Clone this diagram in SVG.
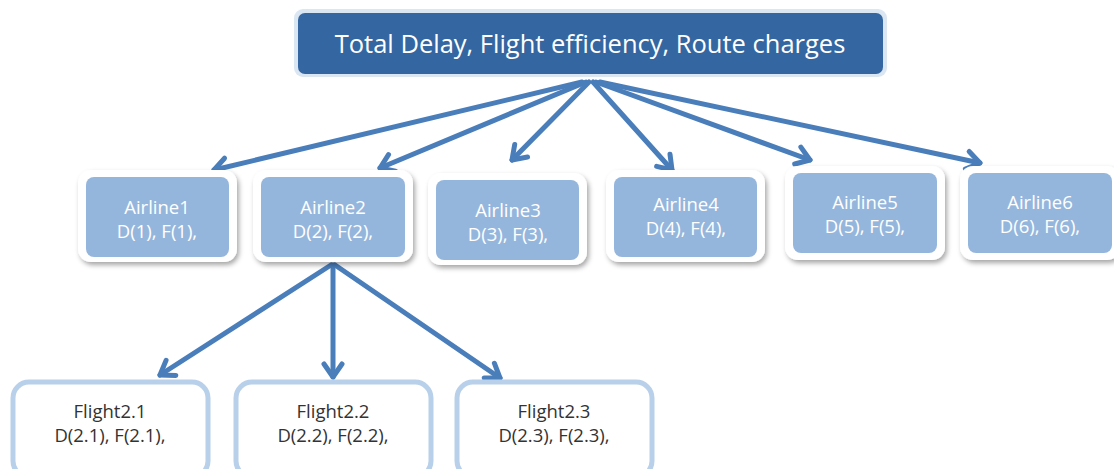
<svg xmlns="http://www.w3.org/2000/svg" width="1114" height="469" viewBox="0 0 1114 469">
<defs>
<style>
.conn{stroke:#4a7ebb;stroke-width:5;fill:none;stroke-linecap:round;marker-end:url(#ah)}
.outer{fill:#ffffff;filter:url(#sh)}
.inner{fill:#95b6dc}
.at{font-family:"Open Sans","Liberation Sans",sans-serif;font-size:18.5px;fill:#ffffff;text-anchor:middle}
.ft{font-family:"Open Sans","Liberation Sans",sans-serif;font-size:18.5px;fill:#333333;text-anchor:middle}
.fb{fill:#ffffff;stroke:#b9d0ea;stroke-width:5}
</style>
<marker id="ah" markerUnits="userSpaceOnUse" markerWidth="30" markerHeight="30" viewBox="-20 -15 30 30" refX="0" refY="0" orient="auto">
<path d="M-13,-9 L0,0 L-13,9" fill="none" stroke="#4a7ebb" stroke-width="5" stroke-linecap="round" stroke-linejoin="round"/>
</marker>
<filter id="sh" x="-10%" y="-10%" width="125%" height="130%">
<feDropShadow dx="2" dy="3" stdDeviation="2.5" flood-color="#000" flood-opacity="0.35"/>
</filter>
</defs>
<g id="connectors">
<line class="conn" x1="582" y1="82" x2="214" y2="170"/>
<line class="conn" x1="586" y1="82" x2="380" y2="168"/>
<line class="conn" x1="589" y1="82" x2="512" y2="160"/>
<line class="conn" x1="593" y1="82" x2="672" y2="170"/>
<line class="conn" x1="596" y1="82" x2="810" y2="160"/>
<line class="conn" x1="600" y1="82" x2="980" y2="163"/>
<line class="conn" x1="331" y1="265" x2="160" y2="375"/>
<line class="conn" x1="333" y1="265" x2="333" y2="377"/>
<line class="conn" x1="335" y1="265" x2="500" y2="378"/>
</g>
<g id="root">
<rect x="294" y="9" width="593" height="68" rx="9" fill="#dbe6f3"/>
<rect x="298" y="13" width="585" height="61" rx="7" fill="#3466a1"/>
<text x="590" y="53" font-family="'Open Sans','Liberation Sans',sans-serif" font-size="25.5" fill="#ffffff" text-anchor="middle">Total Delay, Flight efficiency, Route charges</text>
</g>
<g id="airline1">
<rect class="outer" x="78" y="170" width="159" height="92" rx="13"/>
<rect class="inner" x="86" y="177" width="143" height="80" rx="8"/>
<text class="at" x="157" y="214">Airline1</text>
<text class="at" x="157" y="238">D(1), F(1),</text>
</g>
<g id="airline2">
<rect class="outer" x="253" y="170" width="160" height="92" rx="13"/>
<rect class="inner" x="261" y="177" width="144" height="80" rx="8"/>
<text class="at" x="333" y="214">Airline2</text>
<text class="at" x="333" y="238">D(2), F(2),</text>
</g>
<g id="airline3">
<rect class="outer" x="428" y="173" width="159" height="92" rx="13"/>
<rect class="inner" x="436" y="180" width="143" height="80" rx="8"/>
<text class="at" x="508" y="217">Airline3</text>
<text class="at" x="508" y="241">D(3), F(3),</text>
</g>
<g id="airline4">
<rect class="outer" x="606" y="170" width="159" height="92" rx="13"/>
<rect class="inner" x="614" y="177" width="143" height="80" rx="8"/>
<text class="at" x="686" y="211">Airline4</text>
<text class="at" x="686" y="235">D(4), F(4),</text>
</g>
<g id="airline5">
<rect class="outer" x="785" y="166" width="160" height="94" rx="13"/>
<rect class="inner" x="793" y="173" width="144" height="80" rx="8"/>
<text class="at" x="865" y="209">Airline5</text>
<text class="at" x="865" y="233">D(5), F(5),</text>
</g>
<g id="airline6">
<rect class="outer" x="960" y="166" width="160" height="94" rx="13"/>
<rect class="inner" x="968" y="173" width="144" height="80" rx="8"/>
<text class="at" x="1040" y="209">Airline6</text>
<text class="at" x="1040" y="233">D(6), F(6),</text>
</g>
<g id="flight2.1">
<rect class="fb" x="13" y="382" width="195" height="95" rx="16"/>
<text class="ft" x="110" y="418">Flight2.1</text>
<text class="ft" x="110" y="442">D(2.1), F(2.1),</text>
</g>
<g id="flight2.2">
<rect class="fb" x="236" y="382" width="195" height="95" rx="16"/>
<text class="ft" x="333" y="418">Flight2.2</text>
<text class="ft" x="333" y="442">D(2.2), F(2.2),</text>
</g>
<g id="flight2.3">
<rect class="fb" x="457" y="382" width="195" height="95" rx="16"/>
<text class="ft" x="554" y="418">Flight2.3</text>
<text class="ft" x="554" y="442">D(2.3), F(2.3),</text>
</g>
</svg>
